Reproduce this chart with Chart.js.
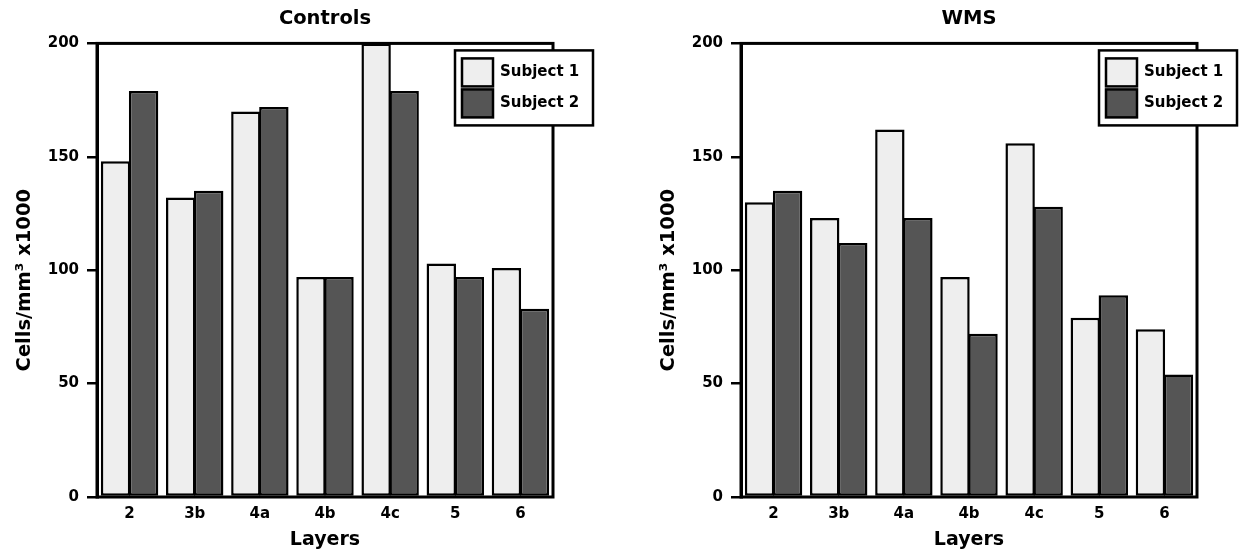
<!DOCTYPE html>
<html>
<head>
<meta charset="utf-8">
<script src="https://cdn.jsdelivr.net/npm/chart.js@4/dist/chart.umd.min.js"></script>
<style>
  html, body { margin: 0; padding: 0; background: #fff; overflow: hidden; }
  .box { position: absolute; top: 0; height: 555px; }
  #leftBox { left: 0; width: 620px; }
  #rightBox { left: 644px; width: 597px; }
</style>
</head>
<body>
<div class="box" id="leftBox"><canvas id="controlsChart"></canvas></div>
<div class="box" id="rightBox"><canvas id="wmsChart"></canvas></div>
<script>
///////////////////////////////////////
//////////////// Data /////////////////
///////////////////////////////////////

const layers = ['2', '3b', '4a', '4b', '4c', '5', '6'];
const yTicks = [0, 50, 100, 150, 200];
const yTitle = 'Cells/mm³ x1000';

// Controls
const controlsSubject1 = [148, 132, 170, 97, 200, 103, 101];
const controlsSubject2 = [179, 135, 172, 97, 179, 97, 83];

// WMS
const wmsSubject1 = [130, 123, 162, 97, 156, 79, 74];
const wmsSubject2 = [135, 112, 123, 72, 128, 89, 54];

const LIGHT = '#eeeeee';
const DARK = '#555555';
const FONT = '"DejaVu Sans", "Liberation Sans", Arial, sans-serif';

Chart.defaults.font.family = FONT;
Chart.defaults.font.weight = 'bold';
Chart.defaults.color = '#000';

// closed frame around the plot area + y title (sits a bit below centre)
const framePlugin = {
    id: 'frame',
    afterDatasetsDraw(chart) {
        const {ctx, chartArea: a} = chart;
        ctx.save();
        ctx.strokeStyle = '#000';
        ctx.lineWidth = 3;
        ctx.strokeRect(a.left, a.top, a.right - a.left, a.bottom - a.top);

        ctx.translate(25, (a.top + a.bottom) / 2 + 10);
        ctx.rotate(-Math.PI / 2);
        ctx.font = 'bold 19.5px ' + FONT;
        ctx.fillStyle = '#000';
        ctx.textAlign = 'center';
        ctx.textBaseline = 'middle';
        ctx.fillText(yTitle, 0, 0);
        ctx.restore();
    }
};

// boxed legend in the upper right corner, sticking out of the frame
const boxLegendPlugin = {
    id: 'boxLegend',
    afterDraw(chart) {
        const {ctx, chartArea: a} = chart;
        const x = a.right - 98, y = a.top + 7, w = 138, h = 75;
        ctx.save();
        ctx.fillStyle = '#fff';
        ctx.fillRect(x, y, w, h);
        ctx.strokeStyle = '#000';
        ctx.lineWidth = 2.5;
        ctx.strokeRect(x, y, w, h);
        ctx.font = 'bold 15px ' + FONT;
        ctx.textBaseline = 'middle';
        chart.data.datasets.forEach((ds, i) => {
            const sy = y + 8 + i * 31;
            ctx.fillStyle = ds.backgroundColor;
            ctx.fillRect(x + 7, sy, 31, 28);
            ctx.strokeRect(x + 7, sy, 31, 28);
            ctx.fillStyle = '#000';
            ctx.fillText(ds.label, x + 45, sy + 14);
        });
        ctx.restore();
    }
};

function makeChart(canvasId, title, s1, s2) {
    return new Chart(document.getElementById(canvasId), {
        type: 'bar',
        data: {
            labels: layers,
            datasets: [
                {
                    label: 'Subject 1',
                    data: s1,
                    backgroundColor: LIGHT,
                    borderColor: '#000',
                    borderWidth: 2.5,
                    borderSkipped: false,
                },
                {
                    label: 'Subject 2',
                    data: s2,
                    backgroundColor: DARK,
                    borderColor: '#000',
                    borderWidth: 2.5,
                    borderSkipped: false,
                }
            ]
        },
        options: {
            responsive: true,
            maintainAspectRatio: false,
            animation: false,
            categoryPercentage: 0.86,
            barPercentage: 1.05,
            layout: {
                padding: { left: 0, right: document.getElementById(canvasId).parentNode.clientWidth - 553, top: 0, bottom: 0 }
            },
            scales: {
                x: {
                    grid: { display: false, drawTicks: false },
                    border: { display: false },
                    ticks: { padding: 8, font: { size: 15, weight: 'bold' } },
                    title: {
                        display: true,
                        text: 'Layers',
                        font: { size: 19, weight: 'bold' },
                        padding: { top: 0, bottom: 4 }
                    },
                    afterFit: (scale) => { scale.height = 58; }
                },
                y: {
                    min: 0,
                    max: 200,
                    afterBuildTicks: (scale) => {
                        scale.ticks = yTicks.map(v => ({ value: v }));
                    },
                    grid: {
                        drawOnChartArea: false,
                        drawTicks: true,
                        tickLength: 10,
                        lineWidth: 2.5,
                        color: '#000'
                    },
                    border: { display: true, width: 3, color: '#000' },
                    ticks: { padding: 8, font: { size: 15, weight: 'bold' } },
                    afterFit: (scale) => { scale.width = 97; }
                }
            },
            plugins: {
                legend: { display: false },
                tooltip: { enabled: false },
                title: {
                    display: true,
                    text: title,
                    fullSize: false,
                    font: { size: 19.5, weight: 'bold' },
                    padding: { top: 7, bottom: 13 }
                }
            }
        },
        plugins: [framePlugin, boxLegendPlugin]
    });
}

makeChart('controlsChart', 'Controls', controlsSubject1, controlsSubject2);
makeChart('wmsChart', 'WMS', wmsSubject1, wmsSubject2);
</script>
</body>
</html>
